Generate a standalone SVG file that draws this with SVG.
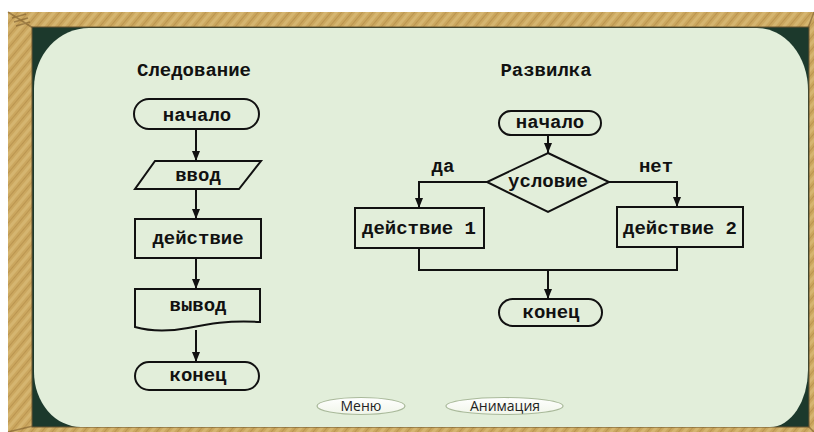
<svg xmlns="http://www.w3.org/2000/svg" width="814" height="432" viewBox="0 0 814 432">
  <defs>
    <pattern id="wood" patternUnits="userSpaceOnUse" width="8" height="8" patternTransform="rotate(40)">
      <rect width="8" height="8" fill="#cba75f"/>
      <rect width="3" height="8" fill="#d5b570"/>
      <rect x="5" width="1" height="8" fill="#bb9550"/>
    </pattern>
    <linearGradient id="btn" x1="0" y1="0" x2="0" y2="1">
      <stop offset="0" stop-color="#ffffff"/>
      <stop offset="1" stop-color="#f0f5e9"/>
    </linearGradient>
    <marker id="arrow" markerUnits="userSpaceOnUse" markerWidth="10" markerHeight="8" refX="10" refY="4" orient="auto">
      <path d="M0,0 L10,4 L0,8 Z" fill="#111"/>
    </marker>
    <style>
      .shape { fill: none; stroke: #111; stroke-width: 2; }
      .conn { fill: none; stroke: #111; stroke-width: 2; }
      .lbl { font-family: "Liberation Mono", "DejaVu Sans Mono", monospace; font-weight: bold; font-size: 19px; fill: #111; text-anchor: middle; }
      .btn { fill: url(#btn); stroke: #a9b99a; stroke-width: 1.2; }
      .btntxt { font-family: "Open Sans", "Noto Sans", sans-serif; font-size: 14px; fill: #222; text-anchor: middle; }
    </style>
  </defs>

  <!-- page background -->
  <rect width="814" height="432" fill="#ffffff"/>

  <!-- wooden frame -->
  <g id="frame">
    <rect x="8" y="12" width="806" height="420" fill="url(#wood)"/>
    <!-- carved corner bevels -->
    <path d="M8,12 L33,28 M12,18 L26,14 M14,22 L28,18 M16,26 L30,22" stroke="#7a5a2a" stroke-width="1.5" fill="none" opacity="0.6"/>
    <path d="M814,12 L808,28" stroke="#7a5a2a" stroke-width="1.5" fill="none" opacity="0.6"/>
    <path d="M8,432 L33,426 M814,432 L808,426" stroke="#7a5a2a" stroke-width="1.5" fill="none" opacity="0.6"/>
    <!-- board inside the frame -->
    <rect x="32" y="27" width="777" height="400" fill="#1c392c" stroke="#6b5630" stroke-width="1"/>
    <!-- light drawing surface -->
    <path d="M89,28 H757 A51,62 0 0 1 808,90 V370 A38,57 0 0 1 770,427 H81 A47,55 0 0 1 34,372 V88 A55,60 0 0 1 89,28 Z" fill="#e2eeda"/>
  </g>

  <!-- titles -->
  <g id="titles">
    <text class="lbl" x="194" y="76">Следование</text>
    <text class="lbl" x="546" y="76">Развилка</text>
  </g>

  <!-- sequence flowchart -->
  <g id="seq-start">
    <rect class="shape" x="134" y="99" width="125" height="30" rx="15"/>
    <text class="lbl" x="197" y="121">начало</text>
  </g>
  <g id="seq-input">
    <polygon class="shape" points="155,161 261,161 239,189 135,189"/>
    <text class="lbl" x="198" y="181">ввод</text>
  </g>
  <g id="seq-action">
    <rect class="shape" x="135" y="219" width="126" height="39"/>
    <text class="lbl" x="198" y="244">действие</text>
  </g>
  <g id="seq-output">
    <path class="shape" d="M135,289 H260 V322 C228,320 208,324 188,328 C166,332 149,331 135,327 Z"/>
    <text class="lbl" x="198" y="311">вывод</text>
  </g>
  <g id="seq-end">
    <rect class="shape" x="135" y="362" width="124" height="28" rx="14"/>
    <text class="lbl" x="198" y="381">конец</text>
  </g>

  <!-- branch flowchart -->
  <g id="br-start">
    <rect class="shape" x="499" y="111" width="102" height="24" rx="12"/>
    <text class="lbl" x="550" y="128">начало</text>
  </g>
  <g id="br-cond">
    <polygon class="shape" points="548,153 609,182 548,212 487,182"/>
    <text class="lbl" x="548" y="187">условие</text>
  </g>
  <g id="br-action1">
    <rect class="shape" x="355" y="208" width="129" height="40"/>
    <text class="lbl" x="419" y="234">действие 1</text>
  </g>
  <g id="br-action2">
    <rect class="shape" x="617" y="207" width="126" height="40"/>
    <text class="lbl" x="680" y="234">действие 2</text>
  </g>
  <g id="br-end">
    <rect class="shape" x="499" y="299" width="103" height="27" rx="13.5"/>
    <text class="lbl" x="551" y="318">конец</text>
  </g>

  <!-- connectors -->
  <g id="connectors">
    <line class="conn" x1="196" y1="129" x2="196" y2="161" marker-end="url(#arrow)"/>
    <line class="conn" x1="196" y1="189" x2="196" y2="219" marker-end="url(#arrow)"/>
    <line class="conn" x1="196" y1="258" x2="196" y2="289" marker-end="url(#arrow)"/>
    <line class="conn" x1="196" y1="330" x2="196" y2="362" marker-end="url(#arrow)"/>

    <line class="conn" x1="548" y1="135" x2="548" y2="153" marker-end="url(#arrow)"/>
    <path class="conn" d="M487,182 H419 V208" marker-end="url(#arrow)"/>
    <path class="conn" d="M609,182 H677 V207" marker-end="url(#arrow)"/>
    <path class="conn" d="M419,248 V270 H677 V247"/>
    <line class="conn" x1="548" y1="270" x2="548" y2="299" marker-end="url(#arrow)"/>
    <text class="lbl" x="443" y="172">да</text>
    <text class="lbl" x="656" y="172">нет</text>
  </g>

  <!-- navigation buttons -->
  <g id="btn-menu">
    <ellipse class="btn" cx="361" cy="406" rx="44" ry="8.5"/>
    <text class="btntxt" x="361" y="411">Меню</text>
  </g>
  <g id="btn-anim">
    <ellipse class="btn" cx="504.5" cy="406" rx="58.5" ry="8.5"/>
    <text class="btntxt" x="505" y="411">Анимация</text>
  </g>
</svg>
